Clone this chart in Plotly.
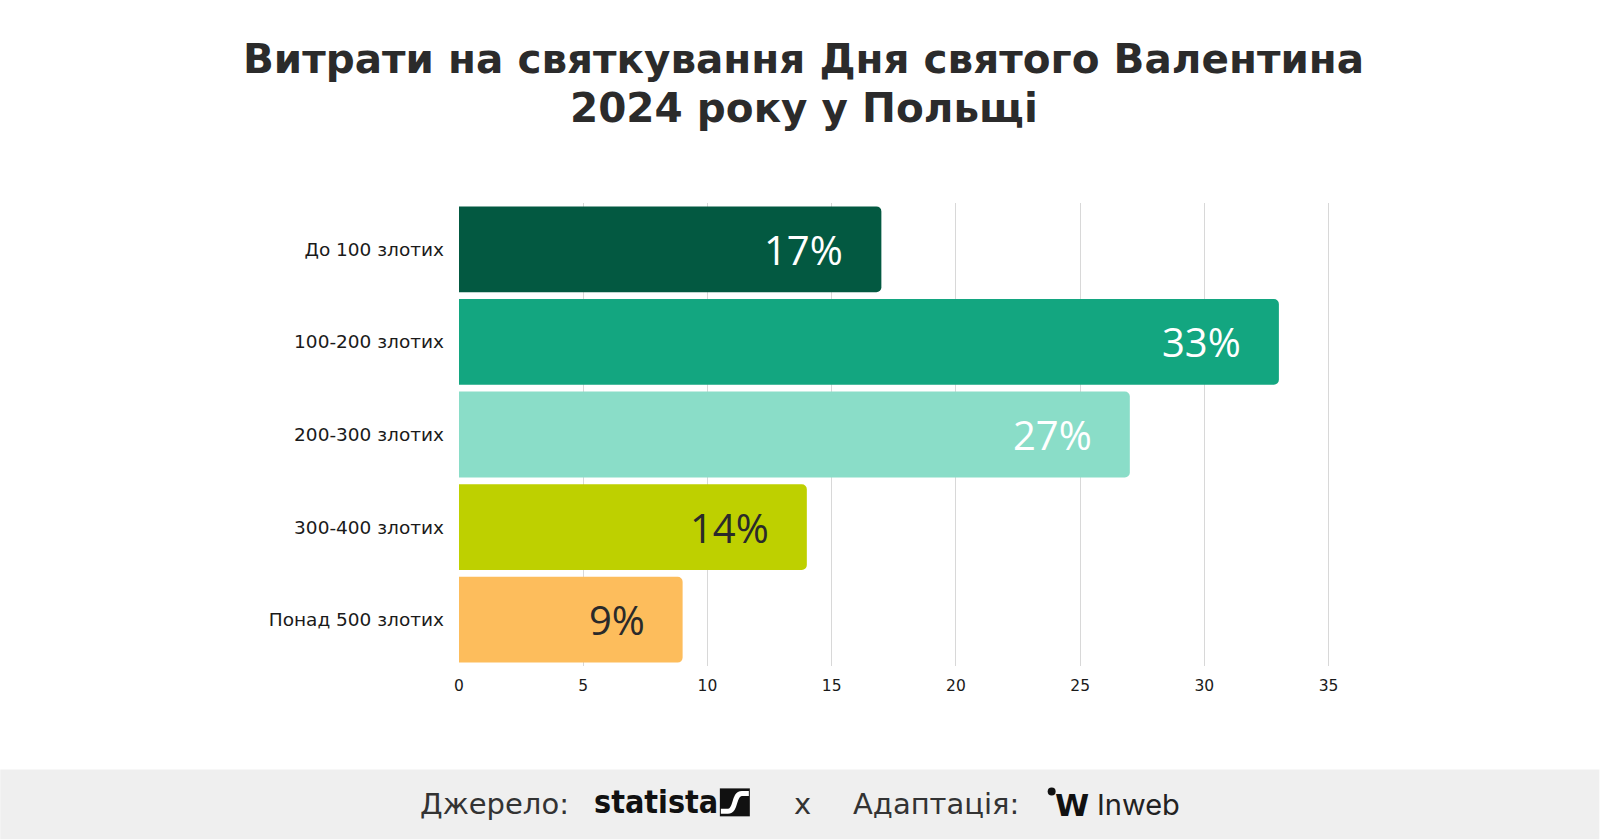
import plotly.graph_objects as go

# ---- data ----
categories = ["До 100 злотих", "100-200 злотих", "200-300 злотих", "300-400 злотих", "Понад 500 злотих"]
values = [17, 33, 27, 14, 9]
bar_colors = ["#035941", "#13A680", "#8ADDC8", "#BED000", "#FDBD5C"]
label_colors = ["#FFFFFF", "#FFFFFF", "#FFFFFF", "#2A2A2A", "#2A2A2A"]
x_ticks = [0, 5, 10, 15, 20, 25, 30, 35]

title_lines = ["Витрати на святкування Дня святого Валентина", "2024 року у Польщі"]

W, H = 1600, 840
L, R_EDGE = 459, 1341.5
T, B_EDGE = 202.6, 666.4
XMAX = 35.5

def px(x):
    return (x - L) / (R_EDGE - L)

def py(y):
    return (B_EDGE - y) / (B_EDGE - T)

FONT = "Open Sans, Noto Sans, sans-serif"
WIDE = "DejaVu Sans, Open Sans, sans-serif"

fig = go.Figure()
fig.add_trace(go.Bar(
    y=categories, x=values, orientation="h",
    marker=dict(color=bar_colors, cornerradius=5, line=dict(width=0)),
    hoverinfo="skip", showlegend=False,
))

annotations = []
for cat, v, c in zip(categories, values, label_colors):
    annotations.append(dict(
        x=v, y=cat, xref="x", yref="y", text=f"{v}%", showarrow=False,
        xanchor="right", yanchor="middle", xshift=-36,
        font=dict(family=FONT, size=40, color=c),
    ))

# title (two lines placed separately)
for line, yy in zip(title_lines, [58, 107]):
    annotations.append(dict(
        x=px(W / 2 + 4), y=py(yy), xref="paper", yref="paper",
        text="<b>" + line + "</b>",
        showarrow=False, xanchor="center", yanchor="middle",
        font=dict(family=WIDE, size=40.5, color="#2B2B2B"),
    ))

# footer texts
foot_y = py(805)
annotations += [
    dict(x=px(418), y=foot_y, xref="paper", yref="paper", text="Джерело:", showarrow=False,
         xanchor="left", yanchor="middle", font=dict(family=WIDE, size=29, color="#333333")),
    dict(x=px(592), y=py(803), xref="paper", yref="paper", text="<b>statista</b>", showarrow=False,
         xanchor="left", yanchor="middle",
         font=dict(family="Liberation Sans Narrow, DejaVu Sans Condensed, Roboto, sans-serif", size=32, color="#111111")),
    dict(x=px(803), y=foot_y, xref="paper", yref="paper", text="x", showarrow=False,
         xanchor="center", yanchor="middle", font=dict(family=WIDE, size=29, color="#333333")),
    dict(x=px(851), y=foot_y, xref="paper", yref="paper", text="Адаптація:", showarrow=False,
         xanchor="left", yanchor="middle", font=dict(family=WIDE, size=29, color="#333333")),
    dict(x=px(1053), y=py(806), xref="paper", yref="paper", text="<b>W</b>", showarrow=False,
         xanchor="left", yanchor="middle", font=dict(family=WIDE, size=31, color="#111111")),
    dict(x=px(1095), y=foot_y, xref="paper", yref="paper", text="Inweb", showarrow=False,
         xanchor="left", yanchor="middle", font=dict(family="Inter, Open Sans, sans-serif", size=29, color="#222222")),
]

shapes = [
    # footer band
    dict(type="rect", xref="paper", yref="paper", x0=px(0), x1=px(W), y0=py(770), y1=py(H),
         fillcolor="#EFEFEF", line=dict(width=0), layer="below"),
    # statista icon
    dict(type="rect", xref="paper", yref="paper", x0=px(720), x1=px(750), y0=py(789), y1=py(817),
         fillcolor="#111111", line=dict(width=0)),
    dict(type="path", xref="paper", yref="paper",
         path=(f"M {px(721)} {py(812)} L {px(728)} {py(812)} "
               f"C {px(737)} {py(812)}, {px(733)} {py(794)}, {px(742)} {py(794)} L {px(749)} {py(794)}"),
         line=dict(color="#FFFFFF", width=5)),
    # inweb dot
    dict(type="circle", xref="paper", yref="paper", x0=px(1048), x1=px(1056), y0=py(788), y1=py(796),
         fillcolor="#111111", line=dict(width=0)),
]

fig.update_layout(
    width=W, height=H,
    margin=dict(l=L, r=W - R_EDGE, t=T, b=H - B_EDGE, pad=0),
    paper_bgcolor="#FFFFFF", plot_bgcolor="#FFFFFF",
    bargap=0.073,
    font=dict(family=FONT, color="#1A1A1A"),
    xaxis=dict(range=[0, XMAX], tickvals=x_ticks, showgrid=True, gridcolor="#D8D8D8", gridwidth=1,
               zeroline=False, showline=False, ticks="", ticklabelstandoff=8,
               tickfont=dict(family=WIDE, size=15.5, color="#1A1A1A"), fixedrange=True),
    yaxis=dict(range=[4.5, -0.5], type="category", showgrid=False, zeroline=False, showline=False,
               ticks="", ticklabelstandoff=14,
               tickfont=dict(family=WIDE, size=18.5, color="#1A1A1A"), fixedrange=True),
    annotations=annotations, shapes=shapes,
)

fig.write_html("out.html")
